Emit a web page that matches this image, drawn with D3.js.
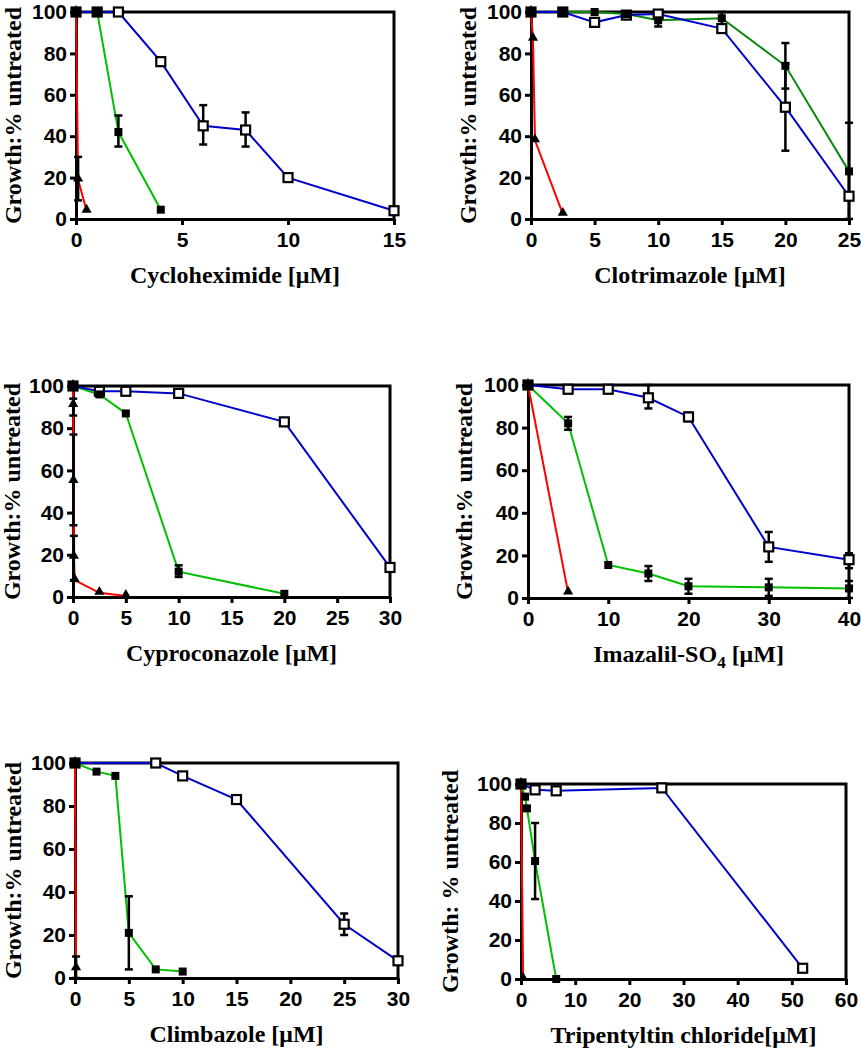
<!DOCTYPE html>
<html>
<head>
<meta charset="utf-8">
<script src="https://cdn.jsdelivr.net/npm/d3@7"></script>
<style>
  body { margin: 0; background: #fff; }
  svg { display: block; }
  .tick text { font-family: Arial, "Liberation Sans", sans-serif; font-weight: bold; font-size: 21px; fill: #000; }
  .ttl { font-family: "Times New Roman", "Liberation Serif", serif; font-weight: bold; font-size: 24px; fill: #000; }
</style>
</head>
<body>
<div id="chart"></div>
<script>
// each point: [x, y, errLow, errHigh] (error optional)

// Cycloheximide
var cycloRed   = [[0,100],[0.1,19,9,30],[0.5,4]];
var cycloGreen = [[0,100],[1,100],[2,42,35,50],[4,4.5]];
var cycloBlue  = [[0,100],[1,100],[2,100],[4,76],[6,45,36,55],[8,43,35,51.5],[10,20,18,22],[15,4]];

// Clotrimazole
var clotRed   = [[0,100],[0.156,87],[0.3125,38],[2.5,2.5]];
var clotGreen = [[0,100],[2.5,100],[5,100],[7.5,99],[10,96,93,100],[15,97,94,100],[20,74,63,85],[25,23,0,46.5]];
var clotBlue  = [[0,100],[2.5,100],[5,95,93,97],[7.5,98.5],[10,99],[15,92],[20,54,33,75],[25,11]];

// Cyproconazole
var cyproRed   = [[0,100],[0.02,91,86,94],[0.04,55,34,77],[0.08,19,8,29],[0.16,8],[2.5,2],[5,0.5]];
var cyproGreen = [[0,100],[2.5,96],[5,87],[10,12,9.5,15],[20,1.5]];
var cyproBlue  = [[0,100],[2.5,97.5],[5,97.5],[10,96.5],[20,83],[30,14]];

// Imazalil-SO4
var imazRed   = [[0,100],[5,2.5]];
var imazGreen = [[0,100],[5,82,79,85],[10,15.5],[15,11.5,8,15],[20,5.5,2,9],[30,5,1,9],[40,4.5,0,8]];
var imazBlue  = [[0,100],[5,98],[10,98],[15,94,89,100],[20,85,83,87],[30,24,17,31],[40,18,14,21]];

// Climbazole
var climRed   = [[0,100],[0.1,4.5,0,10]];
var climGreen = [[0,100],[2,96],[3.75,94],[5,21,4,38],[7.5,4],[10,3]];
var climBlue  = [[0,100],[7.5,100],[10,94],[15,83],[25,25,20,30],[30,8]];

// Tripentyltin chloride
var tpRed   = [[0,100],[0.4,0]];
var tpGreen = [[0,100],[0.75,93.5],[1.1,87.5],[2.6,60.5,41,80],[6.5,0]];
var tpBlue  = [[0,100],[2.6,97],[6.5,96.5],[26,98],[52,5.5]];

var yTicks = [0,20,40,60,80,100];

var W = 861, H = 1050;
var RED = '#ff0000', GREEN = '#00c000', DKGREEN = '#0a8a0a', BLUE = '#0000cc';

// layout of the six panels (plot box: left, top, right, bottom)
var panels = [
  {title:'Cycloheximide [μM]', ytitle:'Growth:% untreated', xMax:15, xStep:5,
   box:[76,12,394,219], ytx:21, red:cycloRed, green:cycloGreen, blue:cycloBlue, gcol:GREEN},
  {title:'Clotrimazole [μM]', ytitle:'Growth:% untreated', xMax:25, xStep:5,
   box:[531,12,849,219], ytx:476, red:clotRed, green:clotGreen, blue:clotBlue, gcol:DKGREEN},
  {title:'Cyproconazole [μM]', ytitle:'Growth:% untreated', xMax:30, xStep:5,
   box:[73,386,390,597], ytx:20, red:cyproRed, green:cyproGreen, blue:cyproBlue, gcol:GREEN},
  {title:'Imazalil-SO', sub:'4', tail:' [μM]', ytitle:'Growth:% untreated', xMax:40, xStep:10,
   box:[528,385,849,598], ytx:472, red:imazRed, green:imazGreen, blue:imazBlue, gcol:GREEN},
  {title:'Climbazole [μM]', ytitle:'Growth:% untreated', xMax:30, xStep:5,
   box:[75,763,398,978], ytx:21, red:climRed, green:climGreen, blue:climBlue, gcol:GREEN},
  {title:'Tripentyltin chloride[μM]', ytitle:'Growth: % untreated', xMax:60, xStep:10,
   box:[521,784,846,979], ytx:458, red:tpRed, green:tpGreen, blue:tpBlue, gcol:GREEN}
];

var svg = d3.select('#chart').append('svg')
  .attr('width', W)
  .attr('height', H);

panels.forEach(function(p){
  var L = p.box[0], T = p.box[1], R = p.box[2], B = p.box[3];
  var x = d3.scaleLinear().domain([0, p.xMax]).range([L, R]);
  var y = d3.scaleLinear().domain([0, 100]).range([B, T]);
  var g = svg.append('g');

  // top + right border
  g.append('path')
    .attr('d', 'M' + L + ',' + T + 'H' + R + 'V' + B)
    .attr('fill', 'none')
    .attr('stroke', '#000')
    .attr('stroke-width', 3);

  var xAx = g.append('g')
    .attr('transform', 'translate(0,' + B + ')')
    .call(d3.axisBottom(x).tickValues(d3.range(0, p.xMax + 0.001, p.xStep)).tickSize(6).tickPadding(7).tickSizeOuter(0));
  var yAx = g.append('g')
    .attr('transform', 'translate(' + L + ',0)')
    .call(d3.axisLeft(y).tickValues(yTicks).tickSize(6).tickPadding(3).tickSizeOuter(0));
  [xAx, yAx].forEach(function(a){
    a.select('.domain').attr('stroke-width', 3).attr('stroke', '#000');
    a.selectAll('.tick line').attr('stroke-width', 3).attr('stroke', '#000');
    a.attr('font-family', null).attr('font-size', null);
  });

  // x title
  var t = g.append('text')
    .attr('class', 'ttl')
    .attr('x', (L + R) / 2)
    .attr('y', B + 64)
    .attr('text-anchor', 'middle')
    .text(p.title);
  if(p.sub){
    t.append('tspan').attr('dy', 6).attr('font-size', '17px').text(p.sub);
    t.append('tspan').attr('dy', -6).text(p.tail);
  }

  // y title
  g.append('text')
    .attr('class', 'ttl')
    .attr('transform', 'translate(' + p.ytx + ',' + (T + B) / 2 + ') rotate(-90)')
    .attr('text-anchor', 'middle')
    .text(p.ytitle);

  var line = d3.line()
    .x(function(d){ return x(d[0]); })
    .y(function(d){ return y(d[1]); });

  var series = [
    {data:p.red, color:RED},
    {data:p.green, color:p.gcol},
    {data:p.blue, color:BLUE}
  ];

  series.forEach(function(s){
    g.append('path')
      .datum(s.data)
      .attr('d', line)
      .attr('fill', 'none')
      .attr('stroke', s.color)
      .attr('stroke-width', 2);
  });

  // error bars
  series.forEach(function(s){
    var eb = g.selectAll(null)
      .data(s.data.filter(function(d){ return d.length > 2; }))
      .enter().append('g');
    eb.append('line')
      .attr('x1', function(d){ return x(d[0]); })
      .attr('x2', function(d){ return x(d[0]); })
      .attr('y1', function(d){ return y(d[2]); })
      .attr('y2', function(d){ return y(d[3]); })
      .attr('stroke', '#000').attr('stroke-width', 2.5);
    [2, 3].forEach(function(k){
      eb.append('line')
        .attr('x1', function(d){ return x(d[0]) - 4; })
        .attr('x2', function(d){ return x(d[0]) + 4; })
        .attr('y1', function(d){ return y(d[k]); })
        .attr('y2', function(d){ return y(d[k]); })
        .attr('stroke', '#000').attr('stroke-width', 2.5);
    });
  });

  // markers: blue open squares, red triangles, green filled squares
  g.selectAll(null).data(p.blue).enter().append('rect')
    .attr('x', function(d){ return x(d[0]) - 4.5; })
    .attr('y', function(d){ return y(d[1]) - 4.5; })
    .attr('width', 9).attr('height', 9)
    .attr('fill', '#fff').attr('stroke', '#000').attr('stroke-width', 2.2);

  g.selectAll(null).data(p.red).enter().append('path')
    .attr('d', d3.symbol().type(d3.symbolTriangle).size(45))
    .attr('transform', function(d){ return 'translate(' + x(d[0]) + ',' + (y(d[1]) - 1) + ')'; })
    .attr('fill', '#000');

  g.selectAll(null).data(p.green).enter().append('rect')
    .attr('x', function(d){ return x(d[0]) - 4; })
    .attr('y', function(d){ return y(d[1]) - 4; })
    .attr('width', 8).attr('height', 8)
    .attr('fill', '#000');
});
</script>
</body>
</html>
